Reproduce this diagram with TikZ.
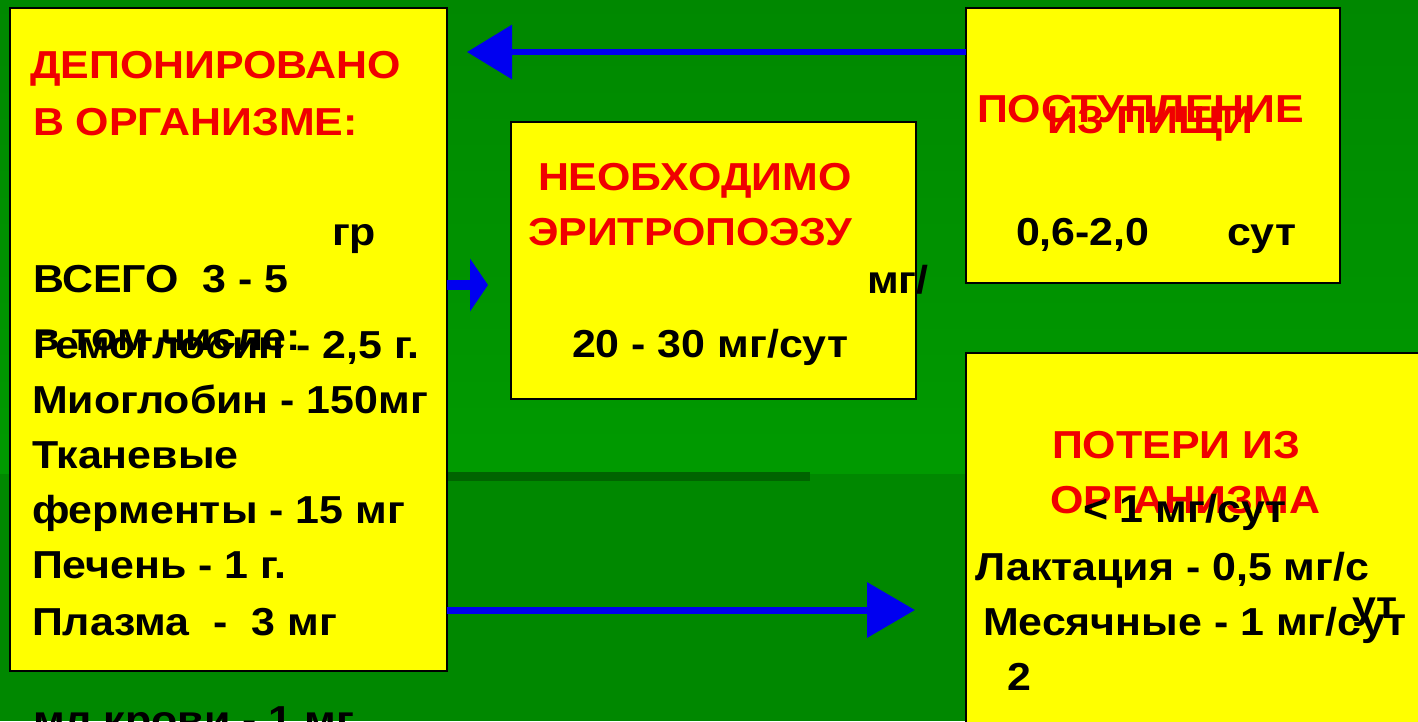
\documentclass[tikz,border=0pt]{standalone}
\usepackage{fontspec}
\setmainfont{Liberation Sans}[FakeStretch=1.1]
\usetikzlibrary{arrows.meta}
\definecolor{bggreen}{HTML}{008800}
\definecolor{bglight}{HTML}{009A00}
\definecolor{banddark}{HTML}{006400}
\definecolor{boxyellow}{HTML}{FFFF00}
\definecolor{titlered}{HTML}{F00000}
\definecolor{arrowblue}{HTML}{0000F0}
\tikzset{
  panel/.style={draw=black, line width=1.5pt, fill=boxyellow, anchor=north west, inner sep=0pt, outer sep=0pt},
  txt/.style={anchor=base west, inner sep=0pt, outer sep=0pt, text=black, font=\fontsize{39}{39}\selectfont\bfseries},
  ttl/.style={txt, text=titlered},
  flow/.style={draw=arrowblue, line cap=butt},
}
\begin{document}
\begin{tikzpicture}[x=1pt, y=-1pt]
\useasboundingbox (0,0) rectangle (1418,721);
\clip (0,0) rectangle (1418,721);
% background
\fill[bggreen] (0,0) rectangle (1418,721);
\shade[top color=bggreen, bottom color=bglight] (0,0) rectangle (1418,473);
\fill[banddark] (447,472) rectangle (810,481);
% boxes
\node[panel, minimum width=437pt, minimum height=663pt] (depot) at (10,8) {};
\node[panel, minimum width=405pt, minimum height=277pt] (need) at (511,122) {};
\node[panel, minimum width=374pt, minimum height=275pt] (food) at (966,8) {};
\node[panel, minimum width=470pt, minimum height=390pt] (loss) at (966,353) {};
% connectors
\coordinate (topTip) at (467,52);
\draw[flow, line width=6.5pt, -{Triangle[length=45pt,width=53pt]}] (food.west |- topTip) -- (topTip);
\coordinate (midTip) at (488,285);
\draw[flow, line width=10pt, -{Triangle[length=18pt,width=52pt]}] (depot.east |- midTip) -- (midTip);
\coordinate (lowTip) at (915,610);
\draw[flow, line width=7pt, -{Triangle[length=48pt,width=54pt]}] (depot.east |- lowTip) -- (lowTip);
% left box text
\node[ttl] (d1) at (30,78) {ДЕПОНИРОВАНО};
\node[ttl] (d2) at (33,135) {В ОРГАНИЗМЕ:};
\node[txt] (d3) at (332,245) {гр};
\node[txt] (d4) at (33,292) {ВСЕГО\ \ 3 - 5};
\node[txt] (d5) at (33,350) {в том числе:};
\node[txt] (d6) at (33,358) {Гемоглобин - 2,5 г.};
\node[txt] (d7) at (32,413) {Миоглобин - 150мг};
\node[txt] (d8) at (32,468) {Тканевые};
\node[txt] (d9) at (32,523) {ферменты - 15 мг};
\node[txt] (d10) at (32,578) {Печень - 1 г.};
\node[txt] (d11) at (32,635) {Плазма\ \ -\ \ 3 мг};
\node[txt] (d12) at (33,733) {мл крови - 1 мг};
% middle box text
\node[ttl] (n1) at (538,190) {НЕОБХОДИМО};
\node[ttl] (n2) at (528,245) {ЭРИТРОПОЭЗУ};
\node[txt] (n3) at (867,293) {мг/};
\node[txt] (n4) at (572,357) {20 - 30 мг/сут};
% top right box text
\node[ttl] (f1) at (977,122) {ПОСТУПЛЕНИЕ};
\node[ttl] (f2) at (1047,133) {ИЗ ПИЩИ};
\node[txt] (f3) at (1016,245) {0,6-2,0};
\node[txt] (f4) at (1227,245) {сут};
% bottom right box text
\node[ttl] (l1) at (1052,458) {ПОТЕРИ ИЗ};
\node[ttl] (l2) at (1050,513) {ОРГАНИЗМА};
\node[txt] (l3) at (1083,522) {< 1 мг/сут};
\node[txt] (l4) at (975,580) {Лактация - 0,5 мг/с};
\node[txt] (l5) at (1352,618) {ут};
\node[txt] (l6) at (983,635) {Месячные - 1 мг/сут};
\node[txt] (l7) at (1007,690) {2};
\end{tikzpicture}
\end{document}
